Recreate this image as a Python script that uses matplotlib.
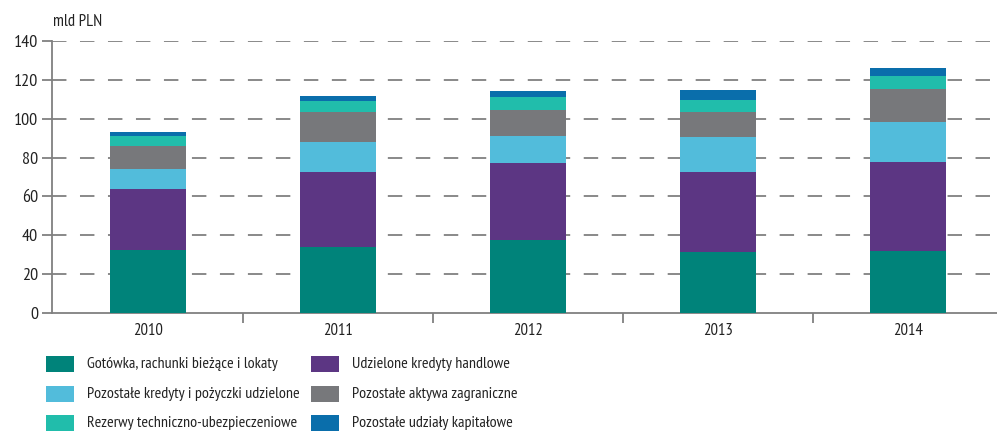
import matplotlib
matplotlib.use("Agg")
import matplotlib.pyplot as plt
from matplotlib.patches import Rectangle
from matplotlib.font_manager import fontManager
import numpy as np

years = ["2010", "2011", "2012", "2013", "2014"]
series_names = [
    "Gotówka, rachunki bieżące i lokaty",
    "Udzielone kredyty handlowe",
    "Pozostałe kredyty i pożyczki udzielone",
    "Pozostałe aktywa zagraniczne",
    "Rezerwy techniczno-ubezpieczeniowe",
    "Pozostałe udziały kapitałowe",
]
gotowka = [32.6, 34.0, 37.6, 31.4, 31.9]
kredyty_handlowe = [31.2, 38.6, 39.6, 41.2, 45.8]
pozostale_kredyty = [10.3, 15.4, 13.9, 18.0, 20.6]
aktywa_zagraniczne = [11.9, 15.4, 13.5, 12.8, 17.0]
rezerwy = [5.1, 5.7, 6.6, 6.2, 6.7]
udzialy = [2.1, 2.6, 3.1, 5.2, 4.1]
yticks = [0, 20, 40, 60, 80, 100, 120, 140]

colors = ["#00837A", "#5C3683", "#52BCDB", "#77787B", "#21BDAB", "#0A6EAB"]
data = [gotowka, kredyty_handlowe, pozostale_kredyty, aktywa_zagraniczne, rezerwy, udzialy]

installed = {f.name for f in fontManager.ttflist}
candidates = ['Liberation Sans Narrow', 'Arial Narrow', 'PT Sans Narrow', 'Roboto Condensed',
              'Liberation Sans']
main_font = next((f for f in candidates if f in installed), 'DejaVu Sans')
plt.rcParams['font.family'] = [main_font, 'DejaVu Sans']
TXT = "#222222"

W, H = 997, 432
fig = plt.figure(figsize=(W/100, H/100), dpi=100)

# size the legend text so the longest label fits before the second column
renderer = fig.canvas.get_renderer()
probe = fig.text(0, 0, series_names[2], fontsize=12)
probe_w = probe.get_window_extent(renderer).width
probe.remove()
fs = min(12.0, 12 * 212 / probe_w)

ax = fig.add_axes([52/W, 1 - 313/H, 1 - 52/W, 272/H])

x = np.arange(len(years))
bottom = np.zeros(len(years))
for vals, c, name in zip(data, colors, series_names):
    ax.bar(x, vals, width=0.4, bottom=bottom, color=c, label=name, zorder=3)
    bottom += np.array(vals)

ax.set_xlim(-0.505, 4.47)
ax.set_ylim(0, 140)
ax.set_yticks(yticks)
ax.set_yticklabels([str(v) for v in yticks], fontsize=13, color=TXT)
for yv in yticks[1:]:
    ax.axhline(yv, color="#808080", lw=1.3, linestyle=(0, (8, 7.5)), zorder=1)

ax.set_xticks(x)
ax.set_xticklabels(years, fontsize=12, color=TXT)
ax.set_xticks(np.arange(0.5, 4.5, 1), minor=True)
ax.tick_params(axis='x', which='major', length=0, pad=7)
ax.tick_params(axis='x', which='minor', length=7, width=1.3, color="#808080", direction='out')
ax.tick_params(axis='y', length=7, width=1.3, color="#808080", direction='out', pad=3)

for s in ["top", "right"]:
    ax.spines[s].set_visible(False)
for s in ["left", "bottom"]:
    ax.spines[s].set_color("#808080")
    ax.spines[s].set_linewidth(1.3)

fig.text(53/W, 1 - 22/H, "mld PLN", fontsize=12, va="center", ha="left", color=TXT)

# legend, laid out by hand in figure pixels
order = [0, 2, 4, 1, 3, 5]
col_x = [46, 311]
text_dx = 41
row_y = [364, 394, 423]
for k, i in enumerate(order):
    col, row = divmod(k, 3)
    px, py = col_x[col], row_y[row]
    fig.patches.append(Rectangle((px/W, 1 - (py + 8)/H), 28/W, 16/H,
                                 transform=fig.transFigure, facecolor=colors[i],
                                 edgecolor="none"))
    fig.text((px + text_dx)/W, 1 - py/H, series_names[i], fontsize=fs,
             va="center", ha="left", color=TXT)

fig.savefig("out.png", dpi=100)
